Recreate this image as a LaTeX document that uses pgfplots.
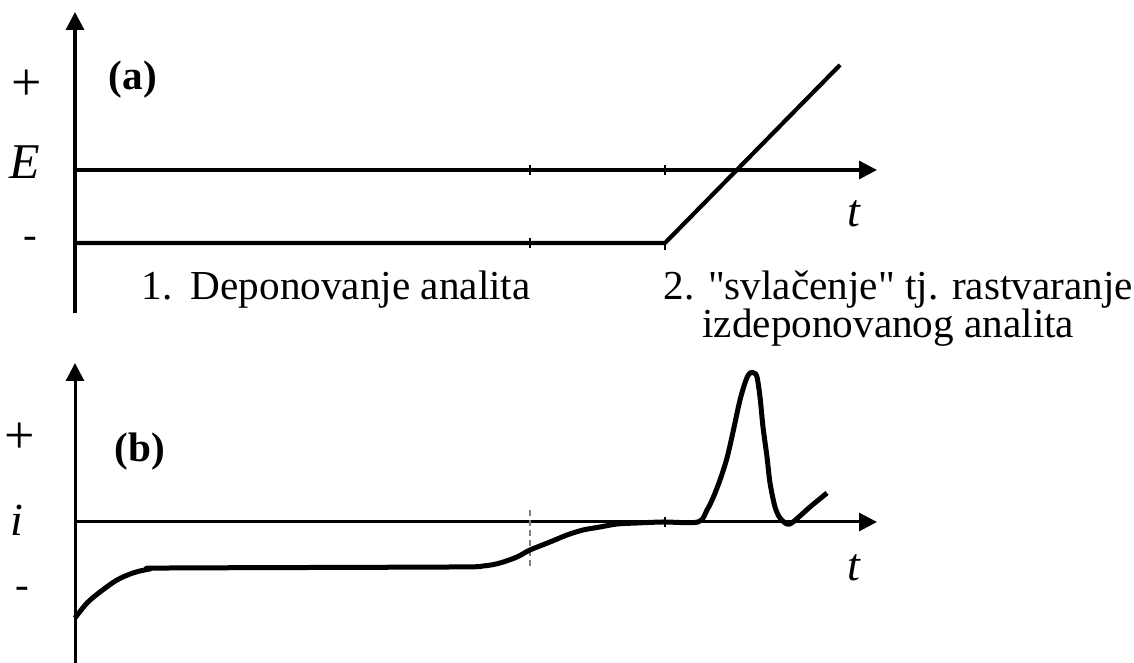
\documentclass[border=0pt]{standalone}
\usepackage{fontspec}
\setmainfont{Liberation Serif}[Ligatures=TeXOff]
\usepackage{pgfplots}
\pgfplotsset{compat=1.18}
\usetikzlibrary{arrows.meta}

\pgfplotsset{
  schem/.style={
    scale only axis, axis lines=middle, enlargelimits=false, clip=false,
    xmin=0, xmax=802, width=401pt,
    axis line style={black, line width=1.6pt},
    every inner x axis line/.append style={-{Triangle[length=9pt,width=9pt]}},
    every inner y axis line/.append style={-{Triangle[length=9pt,width=9pt]}},
    ytick=\empty, xticklabel=\empty,
    major tick length=5pt, tick align=center,
    tick style={line width=1pt, black},
    anchor=south west,
  }
}

\begin{document}
\begin{tikzpicture}[every node/.style={inner sep=0pt, font=\fontsize{20.6}{25}\selectfont}]
\useasboundingbox (0,0) rectangle (567pt,331.5pt);

% (a) potential programme
\begin{axis}[schem, at={(37.5pt,175pt)}, height=150.5pt,
  ymin=-143, ymax=158, xtick={455,590}]
  \addplot[black, line width=2.1pt, line join=round] coordinates {(0,-73) (590,-73) (765,105)};
  \addplot[black, line width=1pt] coordinates {(455,-78) (455,-68)};
  \addplot[black, line width=1pt] coordinates {(590,-80) (590,-73)};
\end{axis}

% (b) current response
\begin{axis}[schem, at={(37.5pt,0pt)}, height=150pt,
  ymin=-141, ymax=159, xtick={590},
  axis line style={black, line width=1.5pt}]
  \addplot[gray, line width=0.8pt, densely dashed] coordinates {(455,12) (455,-45)};
  \addplot[black, line width=2.5pt, smooth, line join=round] coordinates {
    (0,-96) (12,-81) (25,-70) (42,-58) (58,-51) (75,-47) (95,-46)
    (375,-45) (408,-44) (425,-41) (442,-35) (455,-28) (475,-20) (492,-13)
    (508,-8) (525,-5) (542,-2) (562,-1) (588,0) (623,0)
    (632,12) (638,24) (645,42) (652,64) (658,90) (665,122) (671,142)
    (675,149) (679,149) (682,145) (685,125) (688,95) (692,65) (695,39)
    (700,15) (705,4) (712,-2) (718,0) (735,15) (752,29)};
\end{axis}

% axis annotations
\node[font=\fontsize{27}{30}\selectfont] at (13.5pt,289pt) {+};
\node[font=\fontsize{25}{30}\selectfont] at (12.5pt,250.5pt) {\textit{E}};
\node at (15pt,210pt) {-};
\node at (66.5pt,291.5pt) {\textbf{(a)}};
\node[font=\fontsize{23}{28}\selectfont] at (427pt,224.5pt) {\textit{t}};

\node[font=\fontsize{27}{30}\selectfont] at (10pt,112.5pt) {+};
\node[font=\fontsize{23}{28}\selectfont] at (8.5pt,71.5pt) {\textit{i}};
\node at (11pt,35pt) {-};
\node at (70pt,105.5pt) {\textbf{(b)}};
\node[font=\fontsize{23}{28}\selectfont] at (427pt,47.5pt) {\textit{t}};

% stage captions
\node[anchor=base west] at (70.5pt,181.5pt) {1.\hspace{0.45em}Deponovanje analita};
\node[anchor=base west] at (331.5pt,181.5pt) {2. "svlačenje" tj. rastvaranje};
\node[anchor=base west] at (351pt,162.5pt) {izdeponovanog analita};
\end{tikzpicture}
\end{document}
